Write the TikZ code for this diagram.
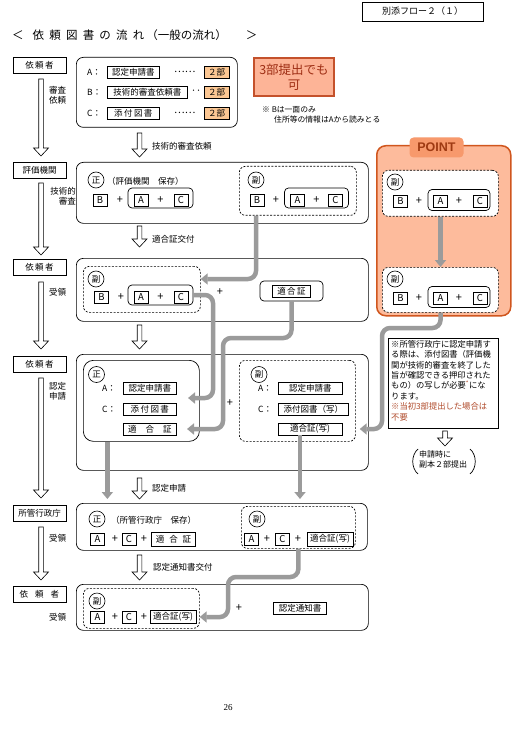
\documentclass[tikz,border=0pt]{standalone}
\usepackage{fontspec}
\setmainfont{Noto Sans CJK JP}
\newfontfamily\pagenumfont{Liberation Serif}
\newfontfamily\latinsans{Liberation Sans}
\usetikzlibrary{arrows.meta}
\definecolor{flowgray}{HTML}{9B9B9B}
\definecolor{orangetwo}{HTML}{FCC793}
\definecolor{callfill}{HTML}{FDB497}
\definecolor{callborder}{HTML}{C4512B}
\definecolor{calltext}{HTML}{9E2E14}
\definecolor{pointfill}{HTML}{FDBB9C}
\definecolor{pointborder}{HTML}{D0561E}
\definecolor{tabfill}{HTML}{F7996C}
\definecolor{pointtext}{HTML}{9E3A12}
\definecolor{notered}{HTML}{B04A2A}
\newcommand{\hollowdown}[3]{%
  \draw[line width=0.6pt, fill=white] (#1-2.3,#2) -- (#1-2.3,#3-8) -- (#1-7.5,#3-8) -- (#1,#3) -- (#1+7.5,#3-8) -- (#1+2.3,#3-8) -- (#1+2.3,#2) -- cycle;}
\tikzset{
  txt/.style={font=\fontsize{8.5}{10.5}\selectfont, inner sep=0pt},
  plus/.style={font=\fontsize{11}{12}\selectfont, inner sep=0pt},
  lbox/.style={txt, draw, line width=0.6pt, minimum width=53pt, minimum height=16pt},
  panel/.style={draw, line width=0.7pt, rounded corners=7pt, inner sep=0pt},
  dpanel/.style={draw, line width=0.7pt, dash pattern=on 2pt off 1.5pt, rounded corners=6pt, inner sep=0pt},
  sq/.style={txt, draw, line width=0.6pt, minimum width=14pt, minimum height=12pt, font=\fontsize{9.5}{11}\selectfont},
  doc/.style={txt, draw, line width=0.6pt, minimum height=12pt},
  circ/.style={txt, draw, circle, minimum size=16pt, line width=0.6pt},
  flow/.style={line width=4.5pt, draw=flowgray, rounded corners=8pt, -{Triangle[width=11pt,length=7pt]}},
}
\begin{document}
\begin{tikzpicture}[x=1pt,y=-1pt]
\useasboundingbox (0,0) rectangle (511,743);
\fill[white] (0,0) rectangle (511,743);
% header and title
\node[txt, draw, line width=0.6pt, minimum width=121pt, minimum height=19pt, font=\fontsize{9}{11}\selectfont] (hdr) at (422.5,11.5) {別添フロー２（１）};
\node[anchor=west, inner sep=0pt, font=\fontsize{11.5}{14}\selectfont] (title) at (12,35) {＜\hspace{9pt}依\hspace{5.2pt}頼\hspace{5.2pt}図\hspace{5.2pt}書\hspace{5.2pt}の\hspace{5.2pt}流\hspace{5.2pt}れ\hspace{2pt}（一般の流れ）\hspace{19pt}＞};
% left column
\node[lbox] (L1) at (39.5,65.5) {依\,頼\,者};
\node[lbox] (L2) at (39.5,170) {評価機関};
\node[lbox] (L3) at (39.5,267) {依\,頼\,者};
\node[lbox] (L4) at (39.5,364) {依\,頼\,者};
\node[lbox] (L5) at (39.5,513) {所管行政庁};
\node[lbox] (L6) at (39.5,594.5) {依\hspace{7pt}頼\hspace{7pt}者};
\hollowdown{41}{79}{156}
\hollowdown{41}{183}{255}
\hollowdown{41}{282}{349}
\hollowdown{41}{378}{498}
\hollowdown{41}{527}{580}
\node[txt, anchor=north west, align=left] (l1) at (49,86) {審査\\依頼};
\node[txt, anchor=north east, align=right] (l2) at (76,187) {技術的\\審査};
\node[txt, anchor=west] (l3) at (49,292) {受領};
\node[txt, anchor=north west, align=left] (l4) at (49,382) {認定\\申請};
\node[txt, anchor=west] (l5) at (49,538) {受領};
\node[txt, anchor=west] (l6) at (49,617) {受領};
% middle hollow arrows
\hollowdown{139.5}{133}{157}
\node[txt, anchor=west] (m1) at (152,146) {技術的審査依頼};
\hollowdown{139.5}{226}{247}
\node[txt, anchor=west] (m2) at (152,239) {適合証交付};
\hollowdown{139.5}{325}{349}
\hollowdown{139.5}{478}{499}
\node[txt, anchor=west] (m4) at (152,488) {認定申請};
\hollowdown{139.5}{555}{580}
\node[txt, anchor=west] (m5) at (153,567) {認定通知書交付};
% box 1
\node[panel, anchor=north west, minimum width=161pt, minimum height=70pt] (P1) at (76,57) {};
\node[txt, anchor=west] (A1) at (87,72) {A：};
\node[doc, anchor=west, minimum width=52pt] (dA1) at (107,72) {認定申請書};
\node[txt, anchor=west, font=\fontsize{10}{11}\selectfont] (o1) at (174,72) {……};
\node[doc, fill=orangetwo, minimum width=25pt] (n1) at (216.5,72) {２部};
\node[txt, anchor=west] (B1) at (87,92) {B：};
\node[doc, anchor=west, minimum width=80pt] (dB1) at (107,92) {技術的審査依頼書};
\node[txt, anchor=west, font=\fontsize{10}{11}\selectfont] (o2) at (191,92) {‥};
\node[doc, fill=orangetwo, minimum width=25pt] (n2) at (216.5,92) {２部};
\node[txt, anchor=west] (C1) at (87,113) {C：};
\node[doc, anchor=west, minimum width=52pt] (dC1) at (107,113) {添\,付\,図\,書};
\node[txt, anchor=west, font=\fontsize{10}{11}\selectfont] (o3) at (174,113) {……};
\node[doc, fill=orangetwo, minimum width=25pt] (n3) at (216.5,113) {２部};
\node[draw=callborder, line width=1.8pt, fill=callfill, text=calltext, font=\fontsize{12.5}{15}\selectfont, align=center, minimum width=80pt, minimum height=38pt, inner sep=0pt] (call) at (294,77) {3部提出でも\\可};
\node[txt, anchor=north west, align=left, font=\fontsize{7.8}{10}\selectfont] (note1) at (262,106) {※ Bは一面のみ\\\hspace{12pt}住所等の情報はAから読みとる};
% box 2
\node[panel, anchor=north west, minimum width=292pt, minimum height=61pt] (P2) at (76,162) {};
\node[circ] (c2a) at (96,180) {正};
\node[txt, anchor=west] (t2) at (107,181) {（評価機関　保存）};
\node[sq] (b2) at (100,200.5) {B};
\node[plus] (q2a) at (120,200.5) {+};
\node[panel, rounded corners=4pt, minimum width=65pt, minimum height=20pt] (g2) at (160.5,198) {};
\node[sq] (a2) at (141,200.5) {A};
\node[plus] (q2b) at (160.5,200.5) {+};
\node[sq] (k2) at (181,200.5) {C};
\node[dpanel, anchor=north west, minimum width=117pt, minimum height=49pt] (D2) at (239,166) {};
\node[circ] (c2b) at (256,180) {副};
\node[sq] (b2b) at (257,200.5) {B};
\node[plus] (q2c) at (276,200.5) {+};
\node[panel, rounded corners=4pt, minimum width=64pt, minimum height=20pt] (g2b) at (316.5,198) {};
\node[sq] (a2b) at (297.5,200.5) {A};
\node[plus] (q2d) at (316.5,200.5) {+};
\node[sq] (k2b) at (335.5,200.5) {C};
% box 3
\node[panel, anchor=north west, minimum width=292pt, minimum height=63pt] (P3) at (76,258) {};
\node[dpanel, anchor=north west, minimum width=117pt, minimum height=46pt] (D3) at (83,266) {};
\node[circ] (c3) at (96,279) {副};
\node[sq] (b3) at (101.5,297) {B};
\node[plus] (q3a) at (121,297) {+};
\node[panel, rounded corners=4pt, minimum width=65pt, minimum height=20pt] (g3) at (160.5,295) {};
\node[sq] (a3) at (141,297) {A};
\node[plus] (q3b) at (160.5,297) {+};
\node[sq] (k3c) at (181,297) {C};
\node[plus] (q3c) at (220,292) {+};
\node[panel, rounded corners=4pt, minimum width=63pt, minimum height=20pt] (k3) at (291.5,291) {};
\node[doc, minimum width=38pt] (k3i) at (291.5,291) {適\,合\,証};
% box 4
\node[panel, anchor=north west, minimum width=292pt, minimum height=116pt] (P4) at (76,354) {};
\node[panel, rounded corners=10pt, anchor=north west, minimum width=116pt, minimum height=81pt] (G4) at (83,360) {};
\node[circ] (c4a) at (96.5,374.5) {正};
\node[txt, anchor=west] (A4) at (102,388) {A：};
\node[doc, anchor=west, minimum width=53pt] (dA4) at (123,388) {認定申請書};
\node[txt, anchor=west] (C4) at (102,409.5) {C：};
\node[doc, anchor=west, minimum width=53pt] (dC4) at (123,409.5) {添\,付\,図\,書};
\node[doc, anchor=west, minimum width=53pt] (dK4) at (123,429) {適\hspace{9pt}合\hspace{9pt}証};
\node[plus] (q4) at (230,403) {+};
\node[dpanel, anchor=north west, minimum width=116pt, minimum height=81pt] (D4) at (239,360) {};
\node[circ] (c4b) at (259,374.5) {副};
\node[txt, anchor=west] (A4b) at (258,388) {A：};
\node[doc, anchor=west, minimum width=64pt] (dA4b) at (278,388) {認定申請書};
\node[txt, anchor=west] (C4b) at (258,409.5) {C：};
\node[doc, anchor=west, minimum width=70pt] (dC4b) at (278,409.5) {添付図書（写）};
\node[doc, minimum width=64pt] (dK4b) at (310,429) {適合証(写)};
% box 5
\node[panel, anchor=north west, minimum width=291pt, minimum height=47pt] (P5) at (76,503) {};
\node[circ] (c5a) at (97,519) {正};
\node[txt, anchor=west] (t5) at (111,520) {（所管行政庁　保存）};
\node[sq] (a5) at (97.5,539) {A};
\node[plus] (q5a) at (115,539) {+};
\node[sq] (k5) at (129,539) {C};
\node[plus] (q5b) at (144,539) {+};
\node[doc, minimum width=44pt, minimum height=14pt] (z5) at (173.5,539) {適\hspace{5pt}合\hspace{5pt}証};
\node[dpanel, anchor=north west, minimum width=114pt, minimum height=42pt] (D5) at (241,506) {};
\node[circ] (c5b) at (257,519) {副};
\node[sq] (a5b) at (251.5,539) {A};
\node[plus] (q5c) at (267,539) {+};
\node[sq] (k5b) at (282.5,539) {C};
\node[plus] (q5d) at (298,539) {+};
\node[doc, minimum width=46pt, minimum height=14pt] (z5b) at (330,539) {適合証(写)};
% box 6
\node[panel, anchor=north west, minimum width=292pt, minimum height=46pt] (P6) at (76,584) {};
\node[dpanel, anchor=north west, minimum width=116pt, minimum height=40pt] (D6) at (83,588) {};
\node[circ] (c6) at (97,601) {副};
\node[sq] (a6) at (97.5,617) {A};
\node[plus] (q6a) at (115,617) {+};
\node[sq] (k6) at (129,617) {C};
\node[plus] (q6b) at (144,617) {+};
\node[doc, minimum width=46pt, minimum height=13pt] (z6) at (173,617) {適合証(写)};
\node[plus] (q6c) at (239,608) {+};
\node[doc, minimum width=53pt] (n6) at (300,608) {認定通知書};
% POINT
\node[draw=pointborder, line width=1.5pt, fill=pointfill, rounded corners=9pt, anchor=north west, minimum width=134pt, minimum height=170pt] (PT) at (376,145) {};
\node[fill=tabfill, rounded corners=4pt, minimum width=54pt, minimum height=20pt, inner sep=0pt, text=pointtext, font=\latinsans\bfseries\fontsize{12.5}{14}\selectfont] (tab) at (436.5,147.5) {POINT};
\node[dpanel, fill=white, anchor=north west, minimum width=116pt, minimum height=46pt] (DP1) at (382,170) {};
\node[circ] (cp1) at (395,182) {副};
\node[sq] (bp1) at (400.5,201) {B};
\node[plus] (qp1) at (419,201) {+};
\node[panel, rounded corners=4pt, minimum width=62pt, minimum height=21pt] (gp1) at (459,200) {};
\node[sq] (ap1) at (440.5,201) {A};
\node[plus] (qp2) at (459,201) {+};
\node[sq] (kp1) at (480,201) {C};
\node[dpanel, fill=white, anchor=north west, minimum width=116pt, minimum height=45pt] (DP2) at (382,267) {};
\node[circ] (cp2) at (395,279) {副};
\node[sq] (bp2) at (400.5,298) {B};
\node[plus] (qp3) at (419,298) {+};
\node[panel, rounded corners=4pt, minimum width=62pt, minimum height=21pt] (gp2) at (459,297) {};
\node[sq] (ap2) at (440.5,298) {A};
\node[plus] (qp4) at (459,298) {+};
\node[sq] (kp2) at (480,298) {C};
% note
\node[draw, line width=0.6pt, anchor=north west, minimum width=110pt, minimum height=90pt, inner sep=0pt] (NB) at (388,338) {};
\node[anchor=north west, align=left, inner sep=0pt, font=\fontsize{8.3}{10.4}\selectfont] (NT) at (391,340) {※所管行政庁に認定申請す\\る際は、添付図書（評価機\\関が技術的審査を終了した\\旨が確認できる押印された\\もの）の写しが必要\textsuperscript{\textcolor{notered}{*}}にな\\ります。\\\textcolor{notered}{※当初3部提出した場合は}\\\textcolor{notered}{不要}};
\hollowdown{445}{431}{446}
\draw[line width=0.7pt] (418,449) .. controls (411,455) and (411,468) .. (418,474);
\draw[line width=0.7pt] (470,449) .. controls (477,455) and (477,468) .. (470,474);
\node[txt, anchor=north west, align=left, font=\fontsize{8}{10}\selectfont] (ps) at (419,451) {申請時に\\副本２部提出};
\node[inner sep=0pt, font=\pagenumfont\fontsize{9}{10}\selectfont] (pg) at (228,708) {26};
% flows
\coordinate (t1) at (188,398);
\coordinate (t2) at (187,429);
\draw[flow] (c2b |- D2.south) |- (D3.east |- c3);
\draw[flow] (g3.east) -- (213,295) -- (213,398) -- (t1);
\draw[flow] (k3.south) |- (223,338) |- (t2);
\draw[flow] (ap1 |- DP1.south) -- (ap1 |- DP2.north);
\draw[flow, shorten >=4pt] (ap2 |- DP2.south) |- (382,328) |- (D4.east |- dK4b);
\draw[flow, shorten >=4pt] ([xshift=-34pt]G4.south) -- ([xshift=-34pt]G4.south |- P5.north);
\draw[flow, shorten >=4pt] ([xshift=-10pt]dK4b.south) -- ([xshift=-10pt]dK4b.south |- P5.north);
\draw[flow] (D5.south) |- (228,577) |- (D6.east |- z6);
\end{tikzpicture}
\end{document}
